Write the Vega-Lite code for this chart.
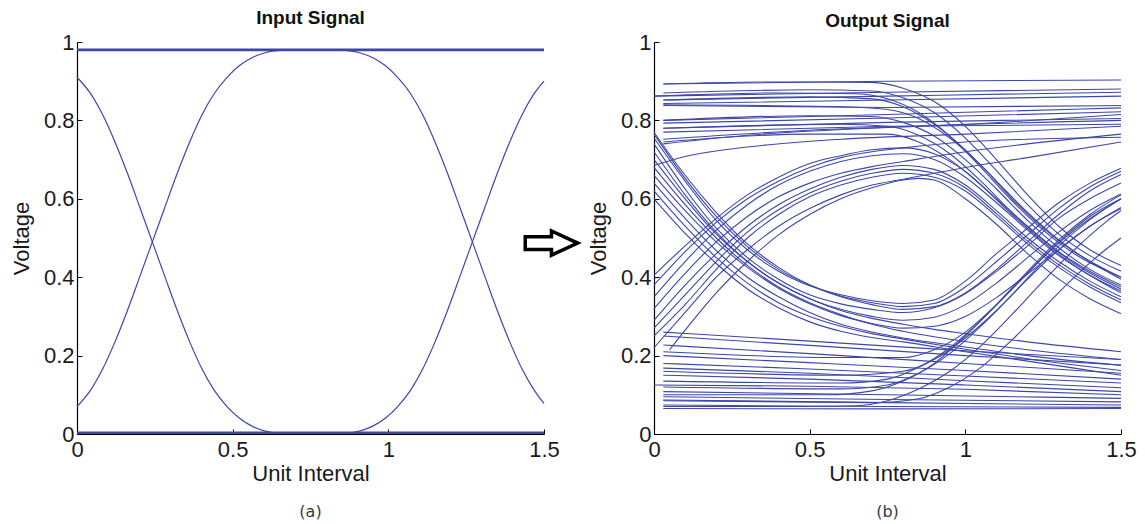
{
"$schema": "https://vega.github.io/schema/vega-lite/v6.json",
"background": "white",
"padding": {"left": 10, "top": 9, "right": 8, "bottom": 4},
"config": {
 "view": {"stroke": null},
 "axis": {"grid": false, "domainColor": "#000", "domainWidth": 1.2, "tickColor": "#000", "tickSize": -5, "tickWidth": 1,
  "labelFont": "Liberation Sans", "labelFontSize": 22, "labelColor": "#1a1a1a", "labelFlush": false,
  "titleFont": "Liberation Sans", "titleFontSize": 22, "titleFontWeight": "normal", "titleColor": "#1a1a1a"},
 "axisX": {"titlePadding": 3, "labelPadding": 10},
 "axisY": {"titlePadding": 10, "labelPadding": 8},
 "title": {"font": "Liberation Sans", "fontSize": 19, "fontWeight": "bold", "color": "#111"}
},
"datasets": {
"a": [
{"s":"top","x":0,"y":0.98},{"s":"top","x":1.5,"y":0.98},
{"s":"bot","x":0,"y":0.003},{"s":"bot","x":1.5,"y":0.003},
{"s":"c","x":0,"y":0.91},{"s":"c","x":0.042,"y":0.87},{"s":"c","x":0.082,"y":0.815},{"s":"c","x":0.122,"y":0.745},{"s":"c","x":0.162,"y":0.665},{"s":"c","x":0.202,"y":0.578},{"s":"c","x":0.242,"y":0.49},{"s":"c","x":0.282,"y":0.402},{"s":"c","x":0.322,"y":0.315},{"s":"c","x":0.362,"y":0.235},{"s":"c","x":0.402,"y":0.165},{"s":"c","x":0.442,"y":0.11},{"s":"c","x":0.482,"y":0.07},{"s":"c","x":0.522,"y":0.04},{"s":"c","x":0.562,"y":0.02},{"s":"c","x":0.602,"y":0.008},{"s":"c","x":0.642,"y":0.003},{"s":"c","x":0.7,"y":0.003},
{"s":"d","x":0,"y":0.07},{"s":"d","x":0.042,"y":0.11},{"s":"d","x":0.082,"y":0.165},{"s":"d","x":0.122,"y":0.235},{"s":"d","x":0.162,"y":0.315},{"s":"d","x":0.202,"y":0.402},{"s":"d","x":0.242,"y":0.49},{"s":"d","x":0.282,"y":0.578},{"s":"d","x":0.322,"y":0.665},{"s":"d","x":0.362,"y":0.745},{"s":"d","x":0.402,"y":0.815},{"s":"d","x":0.442,"y":0.87},{"s":"d","x":0.482,"y":0.91},{"s":"d","x":0.522,"y":0.94},{"s":"d","x":0.562,"y":0.96},{"s":"d","x":0.602,"y":0.972},{"s":"d","x":0.642,"y":0.978},{"s":"d","x":0.7,"y":0.98},{"s":"d","x":0.84,"y":0.98},{"s":"d","x":0.87,"y":0.978},{"s":"d","x":0.91,"y":0.972},{"s":"d","x":0.95,"y":0.96},{"s":"d","x":0.99,"y":0.94},{"s":"d","x":1.03,"y":0.91},{"s":"d","x":1.07,"y":0.87},{"s":"d","x":1.11,"y":0.815},{"s":"d","x":1.15,"y":0.745},{"s":"d","x":1.19,"y":0.665},{"s":"d","x":1.23,"y":0.578},{"s":"d","x":1.27,"y":0.49},{"s":"d","x":1.31,"y":0.402},{"s":"d","x":1.35,"y":0.315},{"s":"d","x":1.39,"y":0.235},{"s":"d","x":1.43,"y":0.165},{"s":"d","x":1.47,"y":0.11},{"s":"d","x":1.5,"y":0.078},
{"s":"e","x":0.7,"y":0.003},{"s":"e","x":0.87,"y":0.003},{"s":"e","x":0.91,"y":0.008},{"s":"e","x":0.95,"y":0.02},{"s":"e","x":0.99,"y":0.04},{"s":"e","x":1.03,"y":0.07},{"s":"e","x":1.07,"y":0.11},{"s":"e","x":1.11,"y":0.165},{"s":"e","x":1.15,"y":0.235},{"s":"e","x":1.19,"y":0.315},{"s":"e","x":1.23,"y":0.402},{"s":"e","x":1.27,"y":0.49},{"s":"e","x":1.31,"y":0.578},{"s":"e","x":1.35,"y":0.665},{"s":"e","x":1.39,"y":0.745},{"s":"e","x":1.43,"y":0.815},{"s":"e","x":1.47,"y":0.87},{"s":"e","x":1.5,"y":0.9}
],
"b": [
{"s":"H1","x":0.03,"y":0.893},{"s":"H1","x":0.75,"y":0.9},{"s":"H1","x":1.5,"y":0.903},
{"s":"H2","x":0,"y":0.862},{"s":"H2","x":0.75,"y":0.872},{"s":"H2","x":1.5,"y":0.88},
{"s":"H3","x":0.03,"y":0.852},{"s":"H3","x":0.75,"y":0.862},{"s":"H3","x":1.5,"y":0.872},
{"s":"H4","x":0.03,"y":0.843},{"s":"H4","x":0.75,"y":0.852},{"s":"H4","x":1.5,"y":0.862},
{"s":"H5","x":0.03,"y":0.838},{"s":"H5","x":0.75,"y":0.833},{"s":"H5","x":1.5,"y":0.838},
{"s":"H6","x":0.03,"y":0.8},{"s":"H6","x":0.75,"y":0.815},{"s":"H6","x":1.5,"y":0.832},
{"s":"H7","x":0.03,"y":0.793},{"s":"H7","x":0.75,"y":0.806},{"s":"H7","x":1.5,"y":0.822},
{"s":"H8","x":0.03,"y":0.78},{"s":"H8","x":0.75,"y":0.795},{"s":"H8","x":1.5,"y":0.805},
{"s":"H9","x":0.03,"y":0.77},{"s":"H9","x":0.75,"y":0.785},{"s":"H9","x":1.5,"y":0.79},
{"s":"G1","x":0,"y":0.685},{"s":"G1","x":0.1,"y":0.708},{"s":"G1","x":0.3,"y":0.732},{"s":"G1","x":0.6,"y":0.752},{"s":"G1","x":1,"y":0.765},{"s":"G1","x":1.5,"y":0.785},
{"s":"G2","x":0.03,"y":0.74},{"s":"G2","x":0.3,"y":0.762},{"s":"G2","x":0.75,"y":0.782},{"s":"G2","x":1.5,"y":0.8},
{"s":"G3","x":0.03,"y":0.752},{"s":"G3","x":0.5,"y":0.775},{"s":"G3","x":1,"y":0.79},{"s":"G3","x":1.5,"y":0.815},
{"s":"B1","x":0.03,"y":0.893},{"s":"B1","x":0.4,"y":0.898},{"s":"B1","x":0.7,"y":0.897},{"s":"B1","x":0.8,"y":0.882},{"s":"B1","x":0.9,"y":0.848},{"s":"B1","x":1,"y":0.785},{"s":"B1","x":1.1,"y":0.7},{"s":"B1","x":1.2,"y":0.61},{"s":"B1","x":1.3,"y":0.53},{"s":"B1","x":1.4,"y":0.47},{"s":"B1","x":1.5,"y":0.43},
{"s":"B2","x":0,"y":0.862},{"s":"B2","x":0.4,"y":0.87},{"s":"B2","x":0.65,"y":0.868},{"s":"B2","x":0.75,"y":0.855},{"s":"B2","x":0.85,"y":0.82},{"s":"B2","x":0.95,"y":0.76},{"s":"B2","x":1.05,"y":0.68},{"s":"B2","x":1.15,"y":0.595},{"s":"B2","x":1.25,"y":0.52},{"s":"B2","x":1.35,"y":0.46},{"s":"B2","x":1.5,"y":0.4},
{"s":"B3","x":0.03,"y":0.852},{"s":"B3","x":0.5,"y":0.86},{"s":"B3","x":0.7,"y":0.855},{"s":"B3","x":0.8,"y":0.835},{"s":"B3","x":0.9,"y":0.79},{"s":"B3","x":1,"y":0.725},{"s":"B3","x":1.1,"y":0.645},{"s":"B3","x":1.2,"y":0.565},{"s":"B3","x":1.3,"y":0.495},{"s":"B3","x":1.4,"y":0.44},{"s":"B3","x":1.5,"y":0.395},
{"s":"B4","x":0.03,"y":0.8},{"s":"B4","x":0.5,"y":0.812},{"s":"B4","x":0.7,"y":0.81},{"s":"B4","x":0.8,"y":0.795},{"s":"B4","x":0.9,"y":0.76},{"s":"B4","x":1,"y":0.7},{"s":"B4","x":1.1,"y":0.625},{"s":"B4","x":1.2,"y":0.545},{"s":"B4","x":1.3,"y":0.475},{"s":"B4","x":1.4,"y":0.42},{"s":"B4","x":1.5,"y":0.38},
{"s":"B5","x":0.03,"y":0.78},{"s":"B5","x":0.6,"y":0.79},{"s":"B5","x":0.75,"y":0.785},{"s":"B5","x":0.85,"y":0.762},{"s":"B5","x":0.95,"y":0.715},{"s":"B5","x":1.05,"y":0.645},{"s":"B5","x":1.15,"y":0.565},{"s":"B5","x":1.25,"y":0.495},{"s":"B5","x":1.35,"y":0.435},{"s":"B5","x":1.5,"y":0.37},
{"s":"B6","x":0.03,"y":0.84},{"s":"B6","x":0.6,"y":0.835},{"s":"B6","x":0.75,"y":0.828},{"s":"B6","x":0.85,"y":0.805},{"s":"B6","x":0.95,"y":0.755},{"s":"B6","x":1.05,"y":0.685},{"s":"B6","x":1.15,"y":0.6},{"s":"B6","x":1.25,"y":0.525},{"s":"B6","x":1.35,"y":0.465},{"s":"B6","x":1.5,"y":0.4},
{"s":"B7","x":0.03,"y":0.745},{"s":"B7","x":0.5,"y":0.765},{"s":"B7","x":0.75,"y":0.765},{"s":"B7","x":0.85,"y":0.745},{"s":"B7","x":0.95,"y":0.7},{"s":"B7","x":1.05,"y":0.635},{"s":"B7","x":1.15,"y":0.56},{"s":"B7","x":1.25,"y":0.49},{"s":"B7","x":1.35,"y":0.43},{"s":"B7","x":1.5,"y":0.36},
{"s":"B8","x":0.03,"y":0.87},{"s":"B8","x":0.5,"y":0.878},{"s":"B8","x":0.7,"y":0.875},{"s":"B8","x":0.8,"y":0.858},{"s":"B8","x":0.9,"y":0.82},{"s":"B8","x":1,"y":0.755},{"s":"B8","x":1.1,"y":0.672},{"s":"B8","x":1.2,"y":0.585},{"s":"B8","x":1.3,"y":0.51},{"s":"B8","x":1.4,"y":0.455},{"s":"B8","x":1.5,"y":0.415},
{"s":"C1","x":0,"y":0.755},{"s":"C1","x":0.1,"y":0.645},{"s":"C1","x":0.2,"y":0.545},{"s":"C1","x":0.3,"y":0.47},{"s":"C1","x":0.4,"y":0.415},{"s":"C1","x":0.5,"y":0.378},{"s":"C1","x":0.6,"y":0.355},{"s":"C1","x":0.7,"y":0.34},{"s":"C1","x":0.8,"y":0.333},{"s":"C1","x":0.9,"y":0.342},{"s":"C1","x":1,"y":0.39},{"s":"C1","x":1.1,"y":0.46},{"s":"C1","x":1.2,"y":0.525},{"s":"C1","x":1.3,"y":0.59},{"s":"C1","x":1.4,"y":0.64},{"s":"C1","x":1.5,"y":0.678},
{"s":"C2","x":0,"y":0.77},{"s":"C2","x":0.1,"y":0.66},{"s":"C2","x":0.2,"y":0.565},{"s":"C2","x":0.3,"y":0.485},{"s":"C2","x":0.4,"y":0.425},{"s":"C2","x":0.5,"y":0.38},{"s":"C2","x":0.6,"y":0.35},{"s":"C2","x":0.7,"y":0.33},{"s":"C2","x":0.8,"y":0.318},{"s":"C2","x":0.9,"y":0.325},{"s":"C2","x":1,"y":0.36},{"s":"C2","x":1.1,"y":0.42},{"s":"C2","x":1.2,"y":0.49},{"s":"C2","x":1.3,"y":0.56},{"s":"C2","x":1.4,"y":0.62},{"s":"C2","x":1.5,"y":0.662},
{"s":"C3","x":0,"y":0.7},{"s":"C3","x":0.1,"y":0.6},{"s":"C3","x":0.2,"y":0.51},{"s":"C3","x":0.3,"y":0.44},{"s":"C3","x":0.4,"y":0.385},{"s":"C3","x":0.5,"y":0.345},{"s":"C3","x":0.6,"y":0.318},{"s":"C3","x":0.7,"y":0.3},{"s":"C3","x":0.8,"y":0.29},{"s":"C3","x":0.9,"y":0.298},{"s":"C3","x":1,"y":0.33},{"s":"C3","x":1.1,"y":0.385},{"s":"C3","x":1.2,"y":0.45},{"s":"C3","x":1.3,"y":0.515},{"s":"C3","x":1.4,"y":0.57},{"s":"C3","x":1.5,"y":0.612},
{"s":"C4","x":0,"y":0.74},{"s":"C4","x":0.1,"y":0.625},{"s":"C4","x":0.2,"y":0.525},{"s":"C4","x":0.3,"y":0.45},{"s":"C4","x":0.4,"y":0.395},{"s":"C4","x":0.5,"y":0.355},{"s":"C4","x":0.6,"y":0.332},{"s":"C4","x":0.7,"y":0.318},{"s":"C4","x":0.8,"y":0.31},{"s":"C4","x":0.9,"y":0.322},{"s":"C4","x":1,"y":0.358},{"s":"C4","x":1.1,"y":0.415},{"s":"C4","x":1.2,"y":0.48},{"s":"C4","x":1.3,"y":0.55},{"s":"C4","x":1.4,"y":0.6},{"s":"C4","x":1.5,"y":0.64},
{"s":"C5","x":0,"y":0.66},{"s":"C5","x":0.1,"y":0.57},{"s":"C5","x":0.2,"y":0.49},{"s":"C5","x":0.3,"y":0.425},{"s":"C5","x":0.4,"y":0.372},{"s":"C5","x":0.5,"y":0.332},{"s":"C5","x":0.6,"y":0.302},{"s":"C5","x":0.7,"y":0.282},{"s":"C5","x":0.8,"y":0.27},{"s":"C5","x":0.9,"y":0.275},{"s":"C5","x":1,"y":0.3},{"s":"C5","x":1.1,"y":0.348},{"s":"C5","x":1.2,"y":0.408},{"s":"C5","x":1.3,"y":0.47},{"s":"C5","x":1.4,"y":0.53},{"s":"C5","x":1.5,"y":0.578},
{"s":"C6","x":0,"y":0.72},{"s":"C6","x":0.1,"y":0.61},{"s":"C6","x":0.2,"y":0.515},{"s":"C6","x":0.3,"y":0.44},{"s":"C6","x":0.4,"y":0.385},{"s":"C6","x":0.5,"y":0.345},{"s":"C6","x":0.6,"y":0.315},{"s":"C6","x":0.7,"y":0.295},{"s":"C6","x":0.8,"y":0.28},{"s":"C6","x":0.9,"y":0.267},{"s":"C6","x":1,"y":0.256},{"s":"C6","x":1.2,"y":0.235},{"s":"C6","x":1.5,"y":0.21},
{"s":"C7","x":0,"y":0.68},{"s":"C7","x":0.1,"y":0.585},{"s":"C7","x":0.2,"y":0.5},{"s":"C7","x":0.3,"y":0.43},{"s":"C7","x":0.4,"y":0.375},{"s":"C7","x":0.5,"y":0.335},{"s":"C7","x":0.6,"y":0.305},{"s":"C7","x":0.7,"y":0.28},{"s":"C7","x":0.8,"y":0.262},{"s":"C7","x":1,"y":0.236},{"s":"C7","x":1.2,"y":0.215},{"s":"C7","x":1.5,"y":0.19},
{"s":"C8","x":0,"y":0.64},{"s":"C8","x":0.1,"y":0.55},{"s":"C8","x":0.2,"y":0.468},{"s":"C8","x":0.3,"y":0.4},{"s":"C8","x":0.4,"y":0.35},{"s":"C8","x":0.5,"y":0.31},{"s":"C8","x":0.6,"y":0.28},{"s":"C8","x":0.7,"y":0.26},{"s":"C8","x":0.8,"y":0.245},{"s":"C8","x":1,"y":0.222},{"s":"C8","x":1.2,"y":0.2},{"s":"C8","x":1.5,"y":0.175},
{"s":"C9","x":0,"y":0.62},{"s":"C9","x":0.1,"y":0.53},{"s":"C9","x":0.2,"y":0.45},{"s":"C9","x":0.3,"y":0.385},{"s":"C9","x":0.4,"y":0.335},{"s":"C9","x":0.5,"y":0.3},{"s":"C9","x":0.6,"y":0.275},{"s":"C9","x":0.7,"y":0.256},{"s":"C9","x":0.8,"y":0.242},{"s":"C9","x":1,"y":0.216},{"s":"C9","x":1.2,"y":0.192},{"s":"C9","x":1.5,"y":0.162},
{"s":"C10","x":0,"y":0.6},{"s":"C10","x":0.1,"y":0.512},{"s":"C10","x":0.2,"y":0.435},{"s":"C10","x":0.3,"y":0.37},{"s":"C10","x":0.4,"y":0.322},{"s":"C10","x":0.5,"y":0.286},{"s":"C10","x":0.6,"y":0.262},{"s":"C10","x":0.7,"y":0.246},{"s":"C10","x":0.8,"y":0.235},{"s":"C10","x":1,"y":0.21},{"s":"C10","x":1.2,"y":0.186},{"s":"C10","x":1.5,"y":0.15},
{"s":"C11","x":0,"y":0.765},{"s":"C11","x":0.1,"y":0.652},{"s":"C11","x":0.2,"y":0.555},{"s":"C11","x":0.3,"y":0.478},{"s":"C11","x":0.4,"y":0.42},{"s":"C11","x":0.5,"y":0.38},{"s":"C11","x":0.6,"y":0.352},{"s":"C11","x":0.7,"y":0.335},{"s":"C11","x":0.8,"y":0.325},{"s":"C11","x":0.9,"y":0.333},{"s":"C11","x":1,"y":0.375},{"s":"C11","x":1.1,"y":0.44},{"s":"C11","x":1.2,"y":0.508},{"s":"C11","x":1.3,"y":0.575},{"s":"C11","x":1.4,"y":0.63},{"s":"C11","x":1.5,"y":0.67},
{"s":"D1","x":0.05,"y":0.215},{"s":"D1","x":0.1,"y":0.265},{"s":"D1","x":0.2,"y":0.36},{"s":"D1","x":0.3,"y":0.44},{"s":"D1","x":0.4,"y":0.508},{"s":"D1","x":0.5,"y":0.56},{"s":"D1","x":0.6,"y":0.6},{"s":"D1","x":0.7,"y":0.628},{"s":"D1","x":0.8,"y":0.648},{"s":"D1","x":0.85,"y":0.652},{"s":"D1","x":0.9,"y":0.648},{"s":"D1","x":1,"y":0.6},{"s":"D1","x":1.1,"y":0.535},{"s":"D1","x":1.2,"y":0.46},{"s":"D1","x":1.3,"y":0.395},{"s":"D1","x":1.4,"y":0.345},{"s":"D1","x":1.5,"y":0.307},
{"s":"D2","x":0,"y":0.29},{"s":"D2","x":0.1,"y":0.38},{"s":"D2","x":0.2,"y":0.46},{"s":"D2","x":0.3,"y":0.53},{"s":"D2","x":0.4,"y":0.585},{"s":"D2","x":0.5,"y":0.625},{"s":"D2","x":0.6,"y":0.655},{"s":"D2","x":0.7,"y":0.675},{"s":"D2","x":0.8,"y":0.685},{"s":"D2","x":0.9,"y":0.675},{"s":"D2","x":1,"y":0.635},{"s":"D2","x":1.1,"y":0.57},{"s":"D2","x":1.2,"y":0.5},{"s":"D2","x":1.3,"y":0.44},{"s":"D2","x":1.4,"y":0.39},{"s":"D2","x":1.5,"y":0.35},
{"s":"D3","x":0,"y":0.35},{"s":"D3","x":0.1,"y":0.44},{"s":"D3","x":0.2,"y":0.52},{"s":"D3","x":0.3,"y":0.585},{"s":"D3","x":0.4,"y":0.635},{"s":"D3","x":0.5,"y":0.67},{"s":"D3","x":0.6,"y":0.695},{"s":"D3","x":0.7,"y":0.71},{"s":"D3","x":0.8,"y":0.715},{"s":"D3","x":0.9,"y":0.7},{"s":"D3","x":1,"y":0.655},{"s":"D3","x":1.1,"y":0.59},{"s":"D3","x":1.2,"y":0.52},{"s":"D3","x":1.3,"y":0.455},{"s":"D3","x":1.4,"y":0.405},{"s":"D3","x":1.5,"y":0.365},
{"s":"D4","x":0,"y":0.405},{"s":"D4","x":0.1,"y":0.48},{"s":"D4","x":0.2,"y":0.55},{"s":"D4","x":0.3,"y":0.61},{"s":"D4","x":0.4,"y":0.655},{"s":"D4","x":0.5,"y":0.69},{"s":"D4","x":0.6,"y":0.71},{"s":"D4","x":0.7,"y":0.725},{"s":"D4","x":0.8,"y":0.73},{"s":"D4","x":0.9,"y":0.715},{"s":"D4","x":1,"y":0.67},{"s":"D4","x":1.1,"y":0.6},{"s":"D4","x":1.2,"y":0.53},{"s":"D4","x":1.3,"y":0.465},{"s":"D4","x":1.4,"y":0.415},{"s":"D4","x":1.5,"y":0.375},
{"s":"D5","x":0,"y":0.25},{"s":"D5","x":0.1,"y":0.33},{"s":"D5","x":0.2,"y":0.42},{"s":"D5","x":0.3,"y":0.5},{"s":"D5","x":0.4,"y":0.56},{"s":"D5","x":0.5,"y":0.605},{"s":"D5","x":0.6,"y":0.635},{"s":"D5","x":0.7,"y":0.655},{"s":"D5","x":0.8,"y":0.665},{"s":"D5","x":0.9,"y":0.655},{"s":"D5","x":1,"y":0.62},{"s":"D5","x":1.1,"y":0.555},{"s":"D5","x":1.2,"y":0.485},{"s":"D5","x":1.3,"y":0.425},{"s":"D5","x":1.4,"y":0.375},{"s":"D5","x":1.5,"y":0.335},
{"s":"D6","x":0,"y":0.38},{"s":"D6","x":0.1,"y":0.465},{"s":"D6","x":0.2,"y":0.54},{"s":"D6","x":0.3,"y":0.6},{"s":"D6","x":0.4,"y":0.645},{"s":"D6","x":0.5,"y":0.68},{"s":"D6","x":0.6,"y":0.705},{"s":"D6","x":0.7,"y":0.72},{"s":"D6","x":0.8,"y":0.73},{"s":"D6","x":1,"y":0.745},{"s":"D6","x":1.2,"y":0.752},{"s":"D6","x":1.5,"y":0.757},
{"s":"D7","x":0,"y":0.32},{"s":"D7","x":0.1,"y":0.41},{"s":"D7","x":0.2,"y":0.49},{"s":"D7","x":0.3,"y":0.555},{"s":"D7","x":0.4,"y":0.605},{"s":"D7","x":0.5,"y":0.64},{"s":"D7","x":0.6,"y":0.665},{"s":"D7","x":0.7,"y":0.682},{"s":"D7","x":0.8,"y":0.695},{"s":"D7","x":1,"y":0.72},{"s":"D7","x":1.2,"y":0.74},{"s":"D7","x":1.5,"y":0.765},
{"s":"D8","x":0,"y":0.22},{"s":"D8","x":0.1,"y":0.31},{"s":"D8","x":0.2,"y":0.4},{"s":"D8","x":0.3,"y":0.47},{"s":"D8","x":0.4,"y":0.53},{"s":"D8","x":0.5,"y":0.575},{"s":"D8","x":0.6,"y":0.61},{"s":"D8","x":0.7,"y":0.635},{"s":"D8","x":0.8,"y":0.65},{"s":"D8","x":1,"y":0.68},{"s":"D8","x":1.2,"y":0.705},{"s":"D8","x":1.5,"y":0.745},
{"s":"D9","x":0,"y":0.27},{"s":"D9","x":0.1,"y":0.355},{"s":"D9","x":0.2,"y":0.44},{"s":"D9","x":0.3,"y":0.515},{"s":"D9","x":0.4,"y":0.572},{"s":"D9","x":0.5,"y":0.615},{"s":"D9","x":0.6,"y":0.645},{"s":"D9","x":0.7,"y":0.665},{"s":"D9","x":0.8,"y":0.675},{"s":"D9","x":0.9,"y":0.665},{"s":"D9","x":1,"y":0.628},{"s":"D9","x":1.1,"y":0.562},{"s":"D9","x":1.2,"y":0.492},{"s":"D9","x":1.3,"y":0.432},{"s":"D9","x":1.4,"y":0.382},{"s":"D9","x":1.5,"y":0.342},
{"s":"L1","x":0.03,"y":0.26},{"s":"L1","x":0.5,"y":0.237},{"s":"L1","x":1,"y":0.212},{"s":"L1","x":1.5,"y":0.19},
{"s":"L2","x":0.03,"y":0.25},{"s":"L2","x":0.5,"y":0.226},{"s":"L2","x":1,"y":0.2},{"s":"L2","x":1.5,"y":0.176},
{"s":"L3","x":0.03,"y":0.227},{"s":"L3","x":0.5,"y":0.205},{"s":"L3","x":1,"y":0.18},{"s":"L3","x":1.5,"y":0.155},
{"s":"L4","x":0.03,"y":0.2},{"s":"L4","x":0.5,"y":0.182},{"s":"L4","x":1,"y":0.162},{"s":"L4","x":1.5,"y":0.14},
{"s":"L5","x":0.03,"y":0.18},{"s":"L5","x":0.5,"y":0.166},{"s":"L5","x":1,"y":0.148},{"s":"L5","x":1.5,"y":0.13},
{"s":"L6","x":0.03,"y":0.168},{"s":"L6","x":0.5,"y":0.155},{"s":"L6","x":1,"y":0.136},{"s":"L6","x":1.5,"y":0.118},
{"s":"L7","x":0.03,"y":0.15},{"s":"L7","x":0.5,"y":0.14},{"s":"L7","x":1,"y":0.125},{"s":"L7","x":1.5,"y":0.108},
{"s":"L8","x":0,"y":0.125},{"s":"L8","x":0.5,"y":0.122},{"s":"L8","x":1,"y":0.114},{"s":"L8","x":1.5,"y":0.1},
{"s":"L9","x":0.03,"y":0.108},{"s":"L9","x":0.75,"y":0.1},{"s":"L9","x":1.5,"y":0.091},
{"s":"L10","x":0.03,"y":0.095},{"s":"L10","x":0.75,"y":0.088},{"s":"L10","x":1.5,"y":0.082},
{"s":"L11","x":0.03,"y":0.087},{"s":"L11","x":0.75,"y":0.08},{"s":"L11","x":1.5,"y":0.074},
{"s":"L12","x":0.03,"y":0.074},{"s":"L12","x":0.75,"y":0.07},{"s":"L12","x":1.5,"y":0.068},
{"s":"L13","x":0.03,"y":0.065},{"s":"L13","x":0.75,"y":0.064},{"s":"L13","x":1.5,"y":0.065},
{"s":"F1","x":0.03,"y":0.07},{"s":"F1","x":0.5,"y":0.07},{"s":"F1","x":0.65,"y":0.072},{"s":"F1","x":0.75,"y":0.085},{"s":"F1","x":0.85,"y":0.115},{"s":"F1","x":0.95,"y":0.16},{"s":"F1","x":1.05,"y":0.225},{"s":"F1","x":1.15,"y":0.305},{"s":"F1","x":1.25,"y":0.39},{"s":"F1","x":1.35,"y":0.47},{"s":"F1","x":1.45,"y":0.54},{"s":"F1","x":1.5,"y":0.57},
{"s":"F2","x":0.03,"y":0.1},{"s":"F2","x":0.55,"y":0.1},{"s":"F2","x":0.7,"y":0.11},{"s":"F2","x":0.8,"y":0.135},{"s":"F2","x":0.9,"y":0.18},{"s":"F2","x":1,"y":0.25},{"s":"F2","x":1.1,"y":0.33},{"s":"F2","x":1.2,"y":0.415},{"s":"F2","x":1.3,"y":0.495},{"s":"F2","x":1.4,"y":0.56},{"s":"F2","x":1.5,"y":0.61},
{"s":"F3","x":0.03,"y":0.135},{"s":"F3","x":0.6,"y":0.13},{"s":"F3","x":0.75,"y":0.14},{"s":"F3","x":0.85,"y":0.17},{"s":"F3","x":0.95,"y":0.22},{"s":"F3","x":1.05,"y":0.29},{"s":"F3","x":1.15,"y":0.37},{"s":"F3","x":1.25,"y":0.45},{"s":"F3","x":1.35,"y":0.52},{"s":"F3","x":1.5,"y":0.6},
{"s":"F4","x":0.03,"y":0.16},{"s":"F4","x":0.6,"y":0.15},{"s":"F4","x":0.8,"y":0.16},{"s":"F4","x":0.9,"y":0.19},{"s":"F4","x":1,"y":0.245},{"s":"F4","x":1.1,"y":0.315},{"s":"F4","x":1.2,"y":0.395},{"s":"F4","x":1.3,"y":0.47},{"s":"F4","x":1.4,"y":0.53},{"s":"F4","x":1.5,"y":0.575},
{"s":"F5","x":0.03,"y":0.21},{"s":"F5","x":0.6,"y":0.195},{"s":"F5","x":0.8,"y":0.195},{"s":"F5","x":0.9,"y":0.215},{"s":"F5","x":1,"y":0.26},{"s":"F5","x":1.1,"y":0.33},{"s":"F5","x":1.2,"y":0.41},{"s":"F5","x":1.3,"y":0.49},{"s":"F5","x":1.4,"y":0.555},{"s":"F5","x":1.5,"y":0.6},
{"s":"F6","x":0.03,"y":0.085},{"s":"F6","x":0.7,"y":0.08},{"s":"F6","x":0.85,"y":0.09},{"s":"F6","x":0.95,"y":0.12},{"s":"F6","x":1.05,"y":0.17},{"s":"F6","x":1.15,"y":0.24},{"s":"F6","x":1.25,"y":0.32},{"s":"F6","x":1.35,"y":0.4},{"s":"F6","x":1.45,"y":0.47},{"s":"F6","x":1.5,"y":0.5},
{"s":"F7","x":0.03,"y":0.12},{"s":"F7","x":0.6,"y":0.115},{"s":"F7","x":0.75,"y":0.125},{"s":"F7","x":0.85,"y":0.155},{"s":"F7","x":0.95,"y":0.205},{"s":"F7","x":1.05,"y":0.275},{"s":"F7","x":1.15,"y":0.355},{"s":"F7","x":1.25,"y":0.44},{"s":"F7","x":1.35,"y":0.515},{"s":"F7","x":1.45,"y":0.575},{"s":"F7","x":1.5,"y":0.6}
]
},
"spacing": 110,
"bounds": "flush",
"hconcat": [
 {
  "width": 467, "height": 392,
  "title": {"text": "Input Signal", "offset": 3},
  "layer": [
   {"data": {"name": "a"},
    "transform": [{"filter": {"field": "s", "oneOf": ["c", "d", "e"]}}],
    "mark": {"type": "line", "interpolate": "monotone", "color": "#3d47a8", "strokeWidth": 1.2},
    "encoding": {
     "x": {"field": "x", "type": "quantitative", "scale": {"domain": [0, 1.5], "nice": false, "zero": false}, "axis": {"values": [0, 0.5, 1, 1.5], "format": "~g", "title": "Unit Interval"}},
     "y": {"field": "y", "type": "quantitative", "scale": {"domain": [0, 1], "nice": false}, "axis": {"values": [0, 0.2, 0.4, 0.6, 0.8, 1], "format": "~g", "title": "Voltage"}},
     "detail": {"field": "s", "type": "nominal"}}},
   {"data": {"name": "a"},
    "transform": [{"filter": {"field": "s", "oneOf": ["top", "bot"]}}],
    "mark": {"type": "line", "color": "#3d47a8", "strokeWidth": 2.6},
    "encoding": {"x": {"field": "x", "type": "quantitative"}, "y": {"field": "y", "type": "quantitative"}, "detail": {"field": "s", "type": "nominal"}}},
   {"data": {"values": [{"t": "(a)"}]},
    "mark": {"type": "text", "font": "DejaVu Sans", "fontSize": 16, "color": "#3a3a3a"},
    "encoding": {"x": {"datum": 0.75}, "y": {"datum": -0.2}, "text": {"field": "t"}}},
   {"data": {"values": [{"t": "arrow"}]},
    "mark": {"type": "point", "shape": "M-1,-0.24L0,-0.24L0,-0.46L1,0L0,0.46L0,0.24L-1,0.24Z", "filled": false, "stroke": "#000", "strokeWidth": 3.5, "size": 2750, "opacity": 1},
    "encoding": {"x": {"datum": 1.524}, "y": {"datum": 0.487}}}
  ]
 },
 {
  "width": 467, "height": 392,
  "title": {"text": "Output Signal", "offset": 0},
  "layer": [
   {"data": {"name": "b"},
    "mark": {"type": "line", "interpolate": "monotone", "color": "#3d47a8", "strokeWidth": 1.1},
    "encoding": {
     "x": {"field": "x", "type": "quantitative", "scale": {"domain": [0, 1.5], "nice": false, "zero": false}, "axis": {"values": [0, 0.5, 1, 1.5], "format": "~g", "title": "Unit Interval"}},
     "y": {"field": "y", "type": "quantitative", "scale": {"domain": [0, 1], "nice": false}, "axis": {"values": [0, 0.2, 0.4, 0.6, 0.8, 1], "format": "~g", "title": "Voltage"}},
     "detail": {"field": "s", "type": "nominal"}}},
   {"data": {"values": [{"t": "(b)"}]},
    "mark": {"type": "text", "font": "DejaVu Sans", "fontSize": 16, "color": "#3a3a3a"},
    "encoding": {"x": {"datum": 0.75}, "y": {"datum": -0.2}, "text": {"field": "t"}}}
  ]
 }
]
}
